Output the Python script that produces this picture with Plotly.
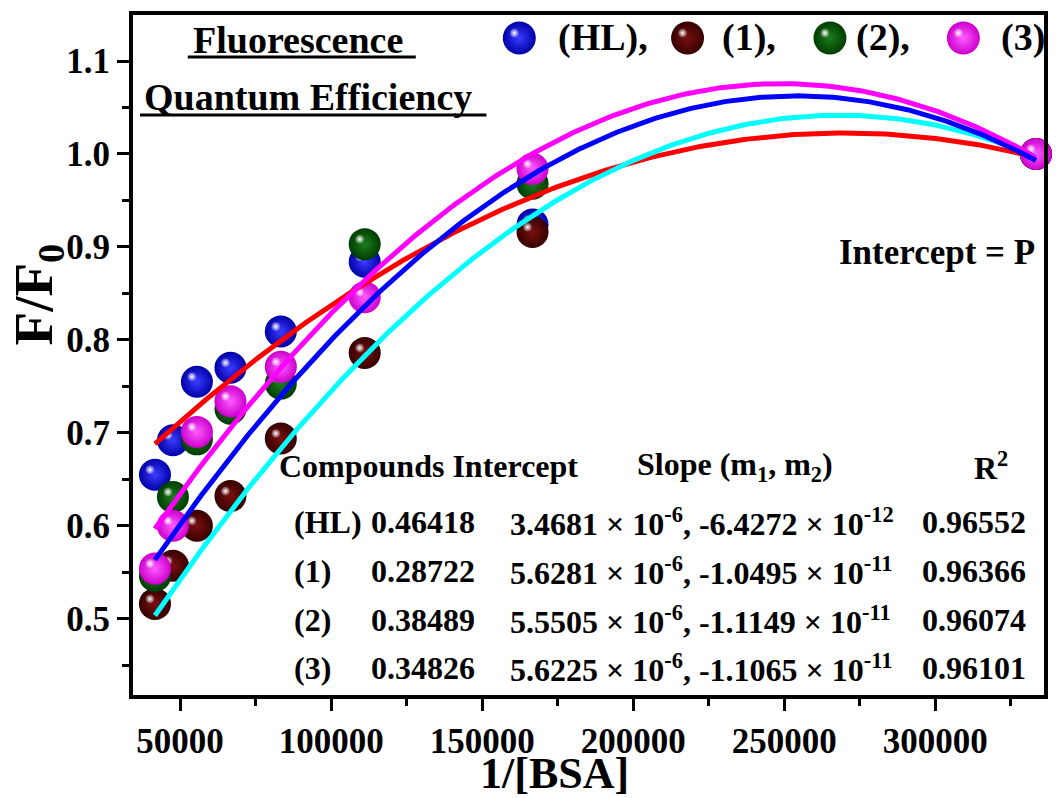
import numpy as np
import plotly.graph_objects as go

# ---------------------------------------------------------------- data
# 1/[BSA] in M^-1
inv_bsa = [41667, 47619, 55556, 66667, 83333, 111111, 166667, 333333]

# F/F0 for each compound
ratio_hl = [0.655, 0.692, 0.755, 0.770, 0.809, 0.884, 0.924, 1.000]
ratio_c1 = [0.516, 0.557, 0.600, 0.632, 0.694, 0.786, 0.916, 1.000]
ratio_c2 = [0.546, 0.631, 0.693, 0.726, 0.753, 0.903, 0.968, 1.000]
ratio_c3 = [0.554, 0.600, 0.701, 0.734, 0.771, 0.846, 0.984, 1.000]

compounds = ["(HL)", "(1)", "(2)", "(3)"]

# second-order fit results printed in the table
intercepts = ["0.46418", "0.28722", "0.38489", "0.34826"]
slope_m1 = ["3.4681", "5.6281", "5.5505", "5.6225"]
slope_m1_exp = ["-6", "-6", "-6", "-6"]
slope_m2 = ["-6.4272", "-1.0495", "-1.1149", "-1.1065"]
slope_m2_exp = ["-12", "-11", "-11", "-11"]
r_squared = ["0.96552", "0.96366", "0.96074", "0.96101"]

y_ticks = [0.5, 0.6, 0.7, 0.8, 0.9, 1.0, 1.1]
x_ticks = [50000, 100000, 150000, 200000, 250000, 300000]

# ---------------------------------------------------------------- style
FONT = "Liberation Serif"
W, H = 1059, 798
L, R, T, B = 133, 11, 15, 103
PW, PH = W - L - R, H - T - B
X_RANGE = [34400, 336000]
Y_RANGE = [0.418, 1.1495]

sphere_edge = ["#0000a8", "#360000", "#003c00", "#cc00cc"]
sphere_core = ["#3c3cff", "#7a1010", "#1d7d1d", "#ff5cff"]
fit_colors = ["#ff0000", "#00ffff", "#ff00ff", "#0000ff"]
SPHERE = 32
GLINT = 9
GLINT_SHIFT = 5  # px, highlight sits up-left of the sphere centre

ratios = [ratio_hl, ratio_c1, ratio_c2, ratio_c3]

x_per_px = (X_RANGE[1] - X_RANGE[0]) / PW
y_per_px = (Y_RANGE[1] - Y_RANGE[0]) / PH


def px_x(px):
    return (px - L) / PW


def px_y(py):
    return (T + PH - py) / PH


fig = go.Figure()

# shaded spheres for the measured points
xs = np.array(inv_bsa, dtype=float)
for i, ys in enumerate(ratios):
    ys = np.array(ys)
    fig.add_trace(go.Scatter(
        x=xs, y=ys, mode="markers", cliponaxis=False, hoverinfo="skip",
        marker=dict(size=SPHERE, color=sphere_edge[i], line=dict(width=0),
                    gradient=dict(type="radial", color=sphere_core[i])),
    ))
    fig.add_trace(go.Scatter(
        x=xs - GLINT_SHIFT * x_per_px, y=ys + GLINT_SHIFT * y_per_px,
        mode="markers", cliponaxis=False, hoverinfo="skip",
        marker=dict(size=GLINT, color="rgba(255,255,255,0.15)", line=dict(width=0),
                    gradient=dict(type="radial", color="white")),
    ))

# quadratic fit curves y = P + m1 x + m2 x^2 using the tabulated slopes;
# the (HL) constant term is the least-squares value for its own points
m1 = np.array([float(a) * 10 ** int(e) for a, e in zip(slope_m1, slope_m1_exp)])
m2 = np.array([float(a) * 10 ** int(e) for a, e in zip(slope_m2, slope_m2_exp)])
p0 = np.array([float(v) for v in intercepts])
p0[0] = np.mean(np.array(ratio_hl) - m1[0] * xs - m2[0] * xs ** 2)

x_fit = np.linspace(xs.min(), xs.max(), 300)
for i in range(4):
    fig.add_trace(go.Scatter(
        x=x_fit, y=p0[i] + m1[i] * x_fit + m2[i] * x_fit ** 2, mode="lines",
        line=dict(color=fit_colors[i], width=5), hoverinfo="skip",
    ))

# legend keys on a pixel-space overlay
legend_key_x = [521, 690, 833, 967]
legend_text_x = [558, 723, 857, 1003]
legend_y = 38
legend_labels = ["(HL),", "(1),", "(2),", "(3)"]
for i in range(4):
    fig.add_trace(go.Scatter(
        x=[legend_key_x[i]], y=[legend_y], xaxis="x3", yaxis="y3",
        mode="markers", cliponaxis=False, hoverinfo="skip",
        marker=dict(size=33, color=sphere_edge[i], line=dict(width=0),
                    gradient=dict(type="radial", color=sphere_core[i])),
    ))
    fig.add_trace(go.Scatter(
        x=[legend_key_x[i] - GLINT_SHIFT], y=[legend_y - GLINT_SHIFT],
        xaxis="x3", yaxis="y3", mode="markers", cliponaxis=False, hoverinfo="skip",
        marker=dict(size=GLINT, color="rgba(255,255,255,0.15)", line=dict(width=0),
                    gradient=dict(type="radial", color="white")),
    ))

annotations = []


def text(s, x, y, size, anchor="left", angle=0):
    annotations.append(dict(
        text=s, x=px_x(x), y=px_y(y), xref="paper", yref="paper",
        xanchor=anchor, yanchor="middle", showarrow=False, textangle=angle,
        font=dict(family=FONT, size=size, color="black", weight="bold"),
    ))


for i in range(4):
    text(legend_labels[i], legend_text_x[i], legend_y, 38)

# heading
text("Fluorescence", 191, 40, 38)
text("Quantum Efficiency", 142, 97, 38)
text("Intercept = P", 840, 253, 35)

# fit table
text("Compounds Intercept", 278, 466, 32)
text("Slope (m<sub>1</sub>, m<sub>2</sub>)", 637, 466, 32)
text("R<sup>2</sup>", 976, 466, 32)
row_y = [522, 571, 620, 668]
for i in range(4):
    text(compounds[i], 293, row_y[i], 32)
    text(intercepts[i], 370, row_y[i], 32)
    text(f"{slope_m1[i]} × 10<sup>{slope_m1_exp[i]}</sup>, "
         f"{slope_m2[i]} × 10<sup>{slope_m2_exp[i]}</sup>",
         510, row_y[i], 32)
    text(r_squared[i], 923, row_y[i], 32)

# axis titles
text("1/[BSA]", 556, 773, 44, anchor="center")
text("F/F<sub>0</sub>", 37, 294, 55, anchor="center", angle=-90)

shapes = [
    dict(type="line", xref="paper", yref="paper", x0=px_x(188), x1=px_x(417),
         y0=px_y(57), y1=px_y(57), line=dict(color="black", width=3)),
    dict(type="line", xref="paper", yref="paper", x0=px_x(140), x1=px_x(488),
         y0=px_y(115), y1=px_y(115), line=dict(color="black", width=3)),
]

axis_font = dict(family=FONT, size=35, color="black", weight="bold")
fig.update_layout(
    width=W, height=H, showlegend=False,
    margin=dict(l=L, r=R, t=T, b=B, pad=0),
    paper_bgcolor="white", plot_bgcolor="white",
    annotations=annotations, shapes=shapes,
    xaxis=dict(
        range=X_RANGE, tickvals=x_ticks, ticktext=[str(v) for v in x_ticks],
        showgrid=False, zeroline=False, showline=True, linewidth=4,
        linecolor="black", mirror=True, ticks="outside", ticklen=12,
        tickwidth=3, tickcolor="black", tickfont=axis_font,
        minor=dict(dtick=25000, tick0=0, ticks="outside", ticklen=7,
                   tickwidth=3, tickcolor="black", showgrid=False),
    ),
    yaxis=dict(
        range=Y_RANGE, tickvals=y_ticks, ticktext=[f"{v:.1f}" for v in y_ticks],
        showgrid=False, zeroline=False, showline=True, linewidth=4,
        linecolor="black", mirror=True, ticks="outside", ticklen=12,
        tickwidth=3, tickcolor="black", tickfont=axis_font,
        minor=dict(dtick=0.05, tick0=0, ticks="outside", ticklen=7,
                   tickwidth=3, tickcolor="black", showgrid=False),
    ),
    xaxis3=dict(overlaying="x", range=[L, L + PW], visible=False),
    yaxis3=dict(overlaying="y", range=[T + PH, T], visible=False),
)

fig.write_html("out.html")
